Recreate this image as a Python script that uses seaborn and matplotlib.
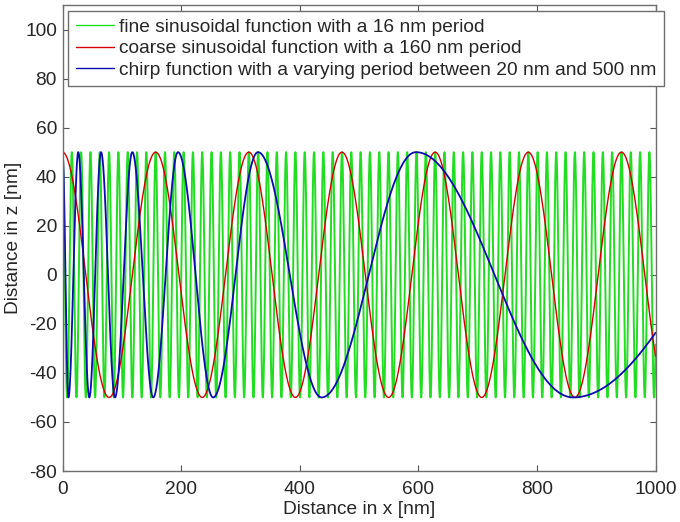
import numpy as np
import pandas as pd
import matplotlib
matplotlib.use("Agg")
import matplotlib.pyplot as plt
import seaborn as sns

# ---- data ----
AMPLITUDE = 50.0                 # nm, all three curves
FINE_PERIOD = 15.71              # nm, measured peak spacing of the green curve
COARSE_PERIOD = 157.1            # nm, measured peak spacing of the red curve
X_MIN, X_MAX = 0.0, 1000.0
# chirp: positions (nm) of successive extrema (max, min, max, ...) and end point
CHIRP_EXTREMA_X = [0.0, 10.0, 26.6, 45.2, 65.0, 88.5, 117.7, 153.0, 194.8,
                   254.0, 329.6, 437.0, 596.0, 861.0, 1000.0]
CHIRP_HALF_TURNS = [0, 1, 2, 3, 4, 5, 6, 7, 8, 9, 10, 11, 12, 13, 13.343]

LABELS = ["fine sinusoidal function with a 16 nm period",
          "coarse sinusoidal function with a 160 nm period",
          "chirp function with a varying period between 20 nm and 500 nm"]
COLORS = ["#22dd22", "#d40000", "#0c0cb0"]
X_TICKS = [0, 200, 400, 600, 800, 1000]
Y_TICKS = [-80, -60, -40, -20, 0, 20, 40, 60, 80, 100]
Y_LIM = (-80, 110)

# ---- build curves ----
x = np.linspace(X_MIN, X_MAX, 8001)
fine = AMPLITUDE * np.cos(2 * np.pi * x / FINE_PERIOD)
coarse = AMPLITUDE * np.cos(2 * np.pi * x / COARSE_PERIOD)
phase = np.pi * np.interp(x, CHIRP_EXTREMA_X, CHIRP_HALF_TURNS)
chirp = AMPLITUDE * np.cos(phase)

df = pd.concat([
    pd.DataFrame({"x": x, "z": fine, "curve": LABELS[0]}),
    pd.DataFrame({"x": x, "z": coarse, "curve": LABELS[1]}),
    pd.DataFrame({"x": x, "z": chirp, "curve": LABELS[2]}),
], ignore_index=True)

sns.set_style("white")
plt.rcParams["font.family"] = ["Liberation Sans", "DejaVu Sans"]
plt.rcParams["axes.unicode_minus"] = False
FS = 13.8

fig = plt.figure(figsize=(6.8, 5.22), dpi=100)
ax = fig.add_axes([62.5 / 680, 51 / 522, 593 / 680, 466 / 522])

sns.lineplot(data=df, x="x", y="z", hue="curve", hue_order=LABELS,
             palette=COLORS, estimator=None, sort=False, ax=ax, legend=True)
widths = [1.4, 1.0, 1.3]
for line, w in zip(ax.get_lines(), widths):
    line.set_linewidth(w)

ax.set_xlim(X_MIN, X_MAX)
ax.set_ylim(*Y_LIM)
ax.set_xticks(X_TICKS)
ax.set_yticks(Y_TICKS)
ax.set_xlabel("Distance in x [nm]", fontsize=FS, labelpad=2)
ax.set_ylabel("Distance in z [nm]", fontsize=FS, labelpad=2)
ax.tick_params(axis="both", direction="in", length=4.5, width=0.8,
               color="#555555", labelsize=FS, top=True, right=True,
               bottom=True, left=True)
ax.tick_params(axis="x", pad=7)
ax.tick_params(axis="y", pad=4)
for s in ax.spines.values():
    s.set_visible(True)
    s.set_color("#6e6e6e")
    s.set_linewidth(1.0)

handles, labels = ax.get_legend_handles_labels()
for h in handles:
    h.set_linewidth(1.0)
leg = ax.legend(handles, labels, loc="upper left",
                bbox_to_anchor=(0.009, 0.987), fontsize=FS, frameon=True,
                fancybox=False, framealpha=1, edgecolor="#6e6e6e",
                handlelength=2.0, handletextpad=0.25, labelspacing=0.2,
                borderpad=0.4, borderaxespad=0.0)
leg.get_frame().set_linewidth(1.0)

fig.savefig("out.png", dpi=100)
